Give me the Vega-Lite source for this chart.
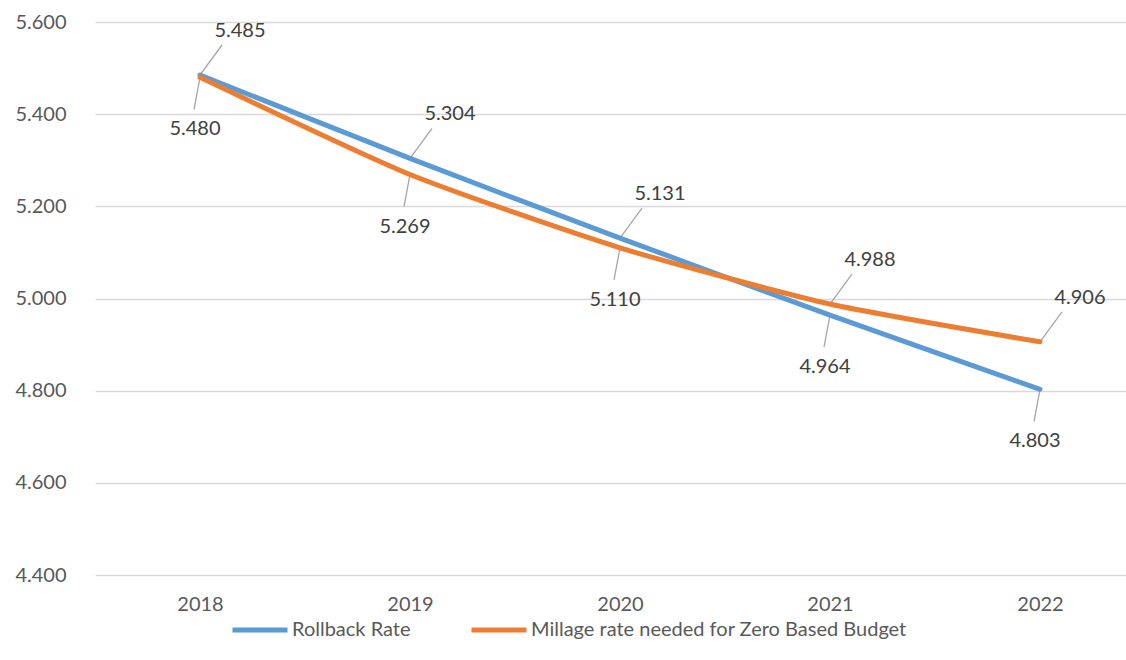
{
  "$schema": "https://vega.github.io/schema/vega-lite/v6.json",
  "autosize": {"type": "none"},
  "padding": {"left": 95, "top": 22, "right": 0, "bottom": 85},
  "width": 1050,
  "height": 553,
  "background": "white",
  "config": {
    "font": "Lato",
    "view": {"stroke": null},
    "axis": {"labelFont": "Lato", "labelFontSize": 20, "labelColor": "#595959"},
    "legend": {"labelFont": "Lato", "labelFontSize": 20, "labelColor": "#595959"}
  },
  "data": {
    "values": [
      {"year": "2018", "series": "Rollback Rate", "value": 5.485},
      {"year": "2019", "series": "Rollback Rate", "value": 5.304},
      {"year": "2020", "series": "Rollback Rate", "value": 5.131},
      {"year": "2021", "series": "Rollback Rate", "value": 4.964},
      {"year": "2022", "series": "Rollback Rate", "value": 4.803},
      {"year": "2018", "series": "Millage rate needed for Zero Based Budget", "value": 5.48},
      {"year": "2019", "series": "Millage rate needed for Zero Based Budget", "value": 5.269},
      {"year": "2020", "series": "Millage rate needed for Zero Based Budget", "value": 5.11},
      {"year": "2021", "series": "Millage rate needed for Zero Based Budget", "value": 4.988},
      {"year": "2022", "series": "Millage rate needed for Zero Based Budget", "value": 4.906}
    ]
  },
  "encoding": {
    "x": {
      "field": "year", "type": "ordinal", "title": null,
      "scale": {"type": "point", "padding": 0.5},
      "axis": {"labelAngle": 0, "ticks": false, "domain": false, "grid": false, "labelPadding": 19}
    },
    "y": {
      "field": "value", "type": "quantitative", "title": null,
      "scale": {"domain": [4.4, 5.6], "zero": false, "nice": false},
      "axis": {"values": [4.4, 4.6, 4.8, 5.0, 5.2, 5.4, 5.6], "format": ".3f", "ticks": false, "domain": false, "labelPadding": 29, "gridColor": "#d9d9d9", "gridWidth": 1.3}
    }
  },
  "layer": [
    {
      "transform": [
        {"joinaggregate": [{"op": "max", "field": "value", "as": "maxv"}], "groupby": ["year"]},
        {"filter": "datum.value == datum.maxv"}
      ],
      "mark": {"type": "rule", "color": "#a6a6a6", "strokeWidth": 1.3, "x2Offset": 22, "y2Offset": -30},
      "encoding": {"x2": {"field": "year"}, "y2": {"field": "value"}}
    },
    {
      "transform": [
        {"joinaggregate": [{"op": "max", "field": "value", "as": "maxv"}], "groupby": ["year"]},
        {"filter": "datum.value < datum.maxv"}
      ],
      "mark": {"type": "rule", "color": "#a6a6a6", "strokeWidth": 1.3, "x2Offset": -6, "y2Offset": 32},
      "encoding": {"x2": {"field": "year"}, "y2": {"field": "value"}}
    },
    {
      "mark": {"type": "line", "interpolate": "cardinal", "tension": 0.4, "strokeWidth": 5, "strokeCap": "round"},
      "encoding": {
        "color": {
          "field": "series", "type": "nominal", "title": null,
          "scale": {"domain": ["Rollback Rate", "Millage rate needed for Zero Based Budget"], "range": ["#5B9BD5", "#ED7D31"]},
          "legend": {
            "orient": "none", "direction": "horizontal", "legendX": 135, "legendY": 578,
            "symbolType": "stroke", "symbolStrokeWidth": 5, "symbolSize": 3025,
            "labelOffset": 2, "columnPadding": 50, "labelLimit": 0
          }
        }
      }
    },
    {
      "transform": [
        {"joinaggregate": [{"op": "max", "field": "value", "as": "maxv"}], "groupby": ["year"]},
        {"filter": "datum.value == datum.maxv"}
      ],
      "mark": {"type": "text", "fontSize": 20, "color": "#404040", "dx": 40, "dy": -44},
      "encoding": {"text": {"field": "value", "format": ".3f"}}
    },
    {
      "transform": [
        {"joinaggregate": [{"op": "max", "field": "value", "as": "maxv"}], "groupby": ["year"]},
        {"filter": "datum.value < datum.maxv"}
      ],
      "mark": {"type": "text", "fontSize": 20, "color": "#404040", "dx": -5, "dy": 52},
      "encoding": {"text": {"field": "value", "format": ".3f"}}
    }
  ]
}
